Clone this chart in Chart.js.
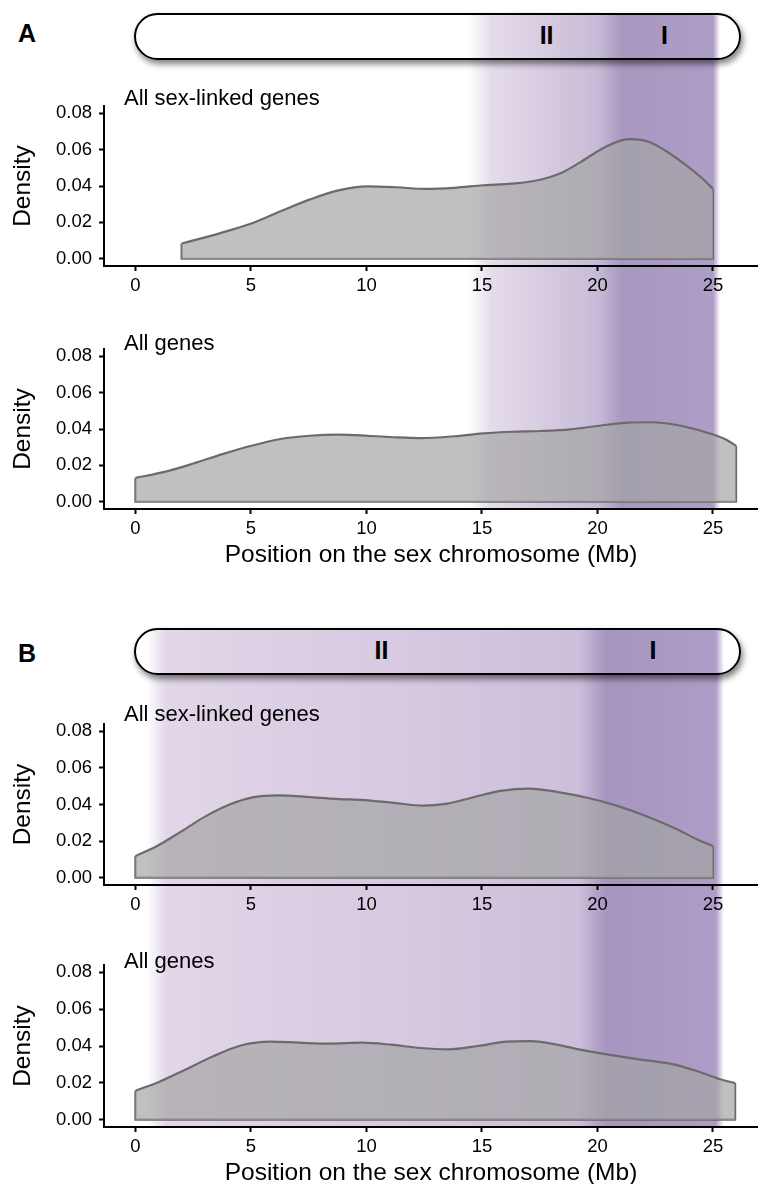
<!DOCTYPE html>
<html lang="en">
<head>
  <meta charset="UTF-8" />
  <title>Density along the sex chromosome</title>
  <script src="https://cdn.jsdelivr.net/npm/chart.js@4.4.0/dist/chart.umd.min.js"></script>
  <style>
    body { margin: 0; width: 758px; height: 1184px; overflow: hidden; background: #fff;
           position: relative; font-family: "Liberation Sans", Arial, sans-serif; color: #000; }
    .band { position: absolute; z-index: 0; }
    .chromo { position: absolute; z-index: 1; border: 2px solid #000; border-radius: 24px;
              box-sizing: border-box; box-shadow: 2px 4px 6px rgba(0,0,0,0.5); }
    .plot { position: absolute; left: 0; z-index: 2; }
    .letter { position: absolute; z-index: 3; font-weight: bold; font-size: 25px; transform: translate(-50%, -50%); }
    .stratum { position: absolute; z-index: 3; font-weight: bold; font-size: 25px; transform: translate(-50%, -50%); }
    .sub { position: absolute; z-index: 3; font-size: 22px; transform: translateY(-50%); white-space: nowrap; }
  </style>
</head>
<body>
  <!-- panel A -->
  <div class="band" id="bandA"></div>
  <div class="chromo" id="chromoA"></div>
  <div class="plot" style="top:100px"><canvas id="a1" width="758" height="200"></canvas></div>
  <div class="plot" style="top:345px"><canvas id="a2" width="758" height="230"></canvas></div>
  <div class="letter" style="left:27px; top:33px">A</div>
  <div class="stratum" id="a_II">II</div>
  <div class="stratum" id="a_I">I</div>
  <div class="sub" style="left:124px; top:98px">All sex-linked genes</div>
  <div class="sub" style="left:124px; top:343px">All genes</div>

  <!-- panel B -->
  <div class="band" id="bandB"></div>
  <div class="chromo" id="chromoB"></div>
  <div class="plot" style="top:718px"><canvas id="b1" width="758" height="201"></canvas></div>
  <div class="plot" style="top:959px"><canvas id="b2" width="758" height="234"></canvas></div>
  <div class="letter" style="left:27px; top:653px">B</div>
  <div class="stratum" id="b_II">II</div>
  <div class="stratum" id="b_I">I</div>
  <div class="sub" style="left:124px; top:714px">All sex-linked genes</div>
  <div class="sub" style="left:124px; top:961px">All genes</div>

<script>
  const xTicks = [0, 5, 10, 15, 20, 25];
  const yTicks = [0, 0.02, 0.04, 0.06, 0.08];
  const chromLength = 26.2;

  // A - all sex-linked genes
  const posA1 = [2.0, 2.93, 3.97, 5.02, 6.28, 7.53, 8.79, 10.04, 11.3, 12.55, 13.8, 15.06, 16.3, 17.36, 18.4, 19.25, 20.3, 21.34, 22.18, 23.0, 23.85, 24.48, 25.0];
  const densA1 = [0.0084, 0.0115, 0.0152, 0.0194, 0.0261, 0.0325, 0.0376, 0.0398, 0.0393, 0.0384, 0.039, 0.0404, 0.0413, 0.043, 0.047, 0.053, 0.0612, 0.0658, 0.0645, 0.059, 0.0513, 0.0448, 0.0385];
  // A - all genes
  const posA2 = [0, 1.26, 2.51, 3.77, 5.02, 6.28, 7.53, 8.79, 10.04, 11.3, 12.34, 13.8, 15.06, 16.3, 17.57, 18.83, 20.08, 21.34, 22.38, 23.43, 24.48, 25.52, 26.0];
  const densA2 = [0.0131, 0.0164, 0.021, 0.0262, 0.0308, 0.0345, 0.0363, 0.0369, 0.0363, 0.0354, 0.035, 0.036, 0.0376, 0.0385, 0.0389, 0.0398, 0.0418, 0.0435, 0.0437, 0.0422, 0.039, 0.0345, 0.0308];
  // B - all sex-linked genes
  const posB1 = [0, 0.94, 1.99, 3.03, 4.08, 5.13, 6.17, 7.43, 8.68, 9.94, 11.19, 12.45, 13.5, 14.54, 15.8, 17.05, 18.3, 19.56, 20.82, 22.07, 23.33, 24.37, 25.0];
  const densB1 = [0.0118, 0.0173, 0.0253, 0.0335, 0.04, 0.044, 0.045, 0.0442, 0.0431, 0.0424, 0.0409, 0.0394, 0.0405, 0.0437, 0.0474, 0.0487, 0.0468, 0.0437, 0.0394, 0.0339, 0.0271, 0.0206, 0.0173];
  // B - all genes
  const posB2 = [0, 1.04, 2.09, 3.34, 4.6, 5.85, 7.1, 8.35, 9.82, 11.07, 12.32, 13.57, 14.82, 16.08, 17.13, 18.17, 19.42, 20.68, 21.93, 23.18, 24.23, 25.27, 25.96];
  const densB2 = [0.0157, 0.0206, 0.0267, 0.0343, 0.0404, 0.0424, 0.0418, 0.0413, 0.0418, 0.0407, 0.0389, 0.0382, 0.04, 0.0424, 0.0427, 0.0409, 0.0376, 0.0349, 0.0325, 0.0303, 0.0267, 0.0221, 0.0199];

  // evolutionary strata (Mb): shading stops and label positions
  const strataA = [14.4, 15.4, 20.0, 21.05, 25.0, 25.3];
  const strataB = [0.5, 1.35, 19.2, 20.4, 25.15, 25.5];
  const labelPosA = [17.8, 22.9];   // II, I
  const labelPosB = [10.65, 22.4];

  const shadeA = ['rgba(229,220,235,0)', 'rgb(229,220,235)', 'rgb(200,187,215)', 'rgb(168,152,192)', 'rgb(174,157,198)', 'rgba(174,157,198,0)'];
  const shadeB = ['rgba(226,214,232,0)', 'rgb(226,214,232)', 'rgb(205,191,219)', 'rgb(166,149,191)', 'rgb(174,157,198)', 'rgba(174,157,198,0)'];

  const FONT = "'Liberation Sans', Arial, sans-serif";
  const LINE = '#6b6b6b';

  function densityChart(id, pos, dens, padTop, xHeight, showTitle) {
    const curve = pos.map((x, i) => ({x: x, y: dens[i]}));
    const n = pos.length - 1;
    const edge = [
      {x: pos[0], y: dens[0]}, {x: pos[0], y: 0},
      {x: pos[n], y: 0}, {x: pos[n], y: dens[n]}
    ];
    const axisGrid = { display: true, drawOnChartArea: false, drawTicks: true, tickLength: 5, tickWidth: 2, tickColor: '#000' };
    const axisBorder = { display: true, color: '#000', width: 2 };
    return new Chart(document.getElementById(id), {
      type: 'line',
      data: {
        datasets: [
          { data: curve, fill: 'origin', backgroundColor: 'rgba(164,164,164,0.69)', borderColor: LINE,
            borderWidth: 2.2, pointRadius: 0, cubicInterpolationMode: 'monotone' },
          { data: edge, fill: false, borderColor: LINE, borderWidth: 2.2, pointRadius: 0, tension: 0 }
        ]
      },
      options: {
        responsive: false,
        animation: false,
        devicePixelRatio: 1,
        layout: { padding: { top: padTop, left: 0, right: 0, bottom: 0 } },
        plugins: { legend: { display: false }, tooltip: { enabled: false } },
        scales: {
          x: {
            type: 'linear', min: -1.36, max: 26.95,
            afterBuildTicks: s => { s.ticks = xTicks.map(v => ({value: v})); },
            afterFit: s => { s.height = xHeight; s.paddingLeft = 0; s.paddingRight = 0; },
            grid: axisGrid, border: axisBorder,
            ticks: { color: '#000', font: { family: FONT, size: 18.5 }, padding: 4, maxRotation: 0, autoSkip: false },
            title: { display: showTitle, text: 'Position on the sex chromosome (Mb)', color: '#000',
                     font: { family: FONT, size: 24.5 }, padding: { top: 0, bottom: 5 } }
          },
          y: {
            type: 'linear', min: -0.004, max: 0.084,
            afterBuildTicks: s => { s.ticks = yTicks.map(v => ({value: v})); },
            afterFit: s => { s.width = 104; s.paddingTop = 0; s.paddingBottom = 0; },
            grid: axisGrid, border: axisBorder,
            ticks: { color: '#000', font: { family: FONT, size: 18.5 }, padding: 7, callback: v => v.toFixed(2) },
            title: { display: true, text: 'Density', color: '#000', font: { family: FONT, size: 24.5 },
                     padding: { top: 9, bottom: 0 } }
          }
        }
      }
    });
  }

  const a1 = densityChart('a1', posA1, densA1, 6, 34, false);
  const a2 = densityChart('a2', posA2, densA2, 4, 66, true);
  const b1 = densityChart('b1', posB1, densB1, 6, 34, false);
  const b2 = densityChart('b2', posB2, densB2, 6, 66, true);

  // shaded strata band, chromosome bar and stratum labels placed from the x scale
  function decorate(chart, lowerChart, lowerTop, stops, shades, labelPos, key, barTop) {
    const xs = chart.scales.x;
    const left = xs.getPixelForValue(stops[0]);
    const right = xs.getPixelForValue(stops[stops.length - 1]);
    const w = right - left;
    const parts = stops.map((s, i) => shades[i] + ' ' + ((xs.getPixelForValue(s) - left) / w * 100).toFixed(2) + '%');
    const band = document.getElementById('band' + key);
    band.style.left = left + 'px';
    band.style.width = w + 'px';
    band.style.top = barTop + 'px';
    band.style.height = (lowerTop + lowerChart.chartArea.bottom - barTop) + 'px';
    band.style.background = 'linear-gradient(to right, ' + parts.join(', ') + ')';

    const bar = document.getElementById('chromo' + key);
    const bl = xs.getPixelForValue(0) - 1;
    bar.style.left = bl + 'px';
    bar.style.width = (xs.getPixelForValue(chromLength) - bl) + 'px';
    bar.style.top = barTop + 'px';
    bar.style.height = '47px';

    const k = key.toLowerCase();
    const ii = document.getElementById(k + '_II');
    const i1 = document.getElementById(k + '_I');
    ii.style.left = xs.getPixelForValue(labelPos[0]) + 'px';
    i1.style.left = xs.getPixelForValue(labelPos[1]) + 'px';
    ii.style.top = (barTop + 22) + 'px';
    i1.style.top = (barTop + 22) + 'px';
  }

  decorate(a1, a2, 345, strataA, shadeA, labelPosA, 'A', 13);
  decorate(b1, b2, 959, strataB, shadeB, labelPosB, 'B', 628);
</script>
</body>
</html>
